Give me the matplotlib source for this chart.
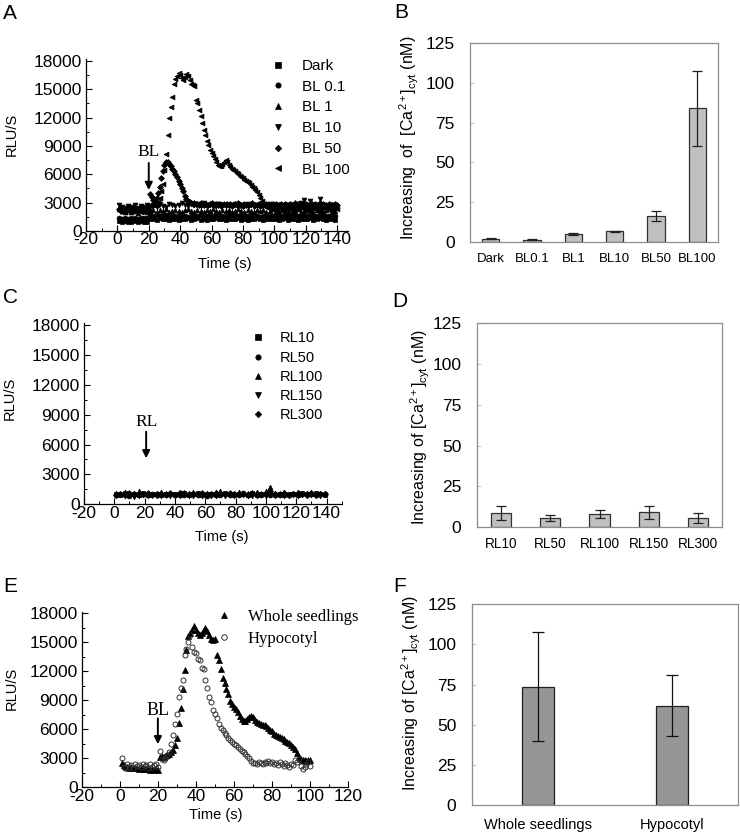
import numpy as np
import matplotlib
matplotlib.use('Agg')
import matplotlib.pyplot as plt
from matplotlib.ticker import MultipleLocator

plt.rcParams['font.family'] = ['Liberation Sans', 'DejaVu Sans']
plt.rcParams['mathtext.fontset'] = 'custom'
plt.rcParams['mathtext.rm'] = 'Liberation Sans'
plt.rcParams['mathtext.it'] = 'Liberation Sans:italic'
plt.rcParams['mathtext.bf'] = 'Liberation Sans:bold'
plt.rcParams['axes.unicode_minus'] = False

# ---------------- data ----------------
# Panel A (blue light dose traces)
tA_sparse = np.arange(1, 141, 2)
tA_dense = np.arange(1, 141, 1)
dark = [1050, 980, 1100, 920, 1000, 1080, 950, 1020, 990, 940,
        1250, 1300, 1180, 1350, 1220, 1280, 1150, 1320, 1260, 1200,
        1300, 1240, 1350, 1190, 1270, 1330, 1210, 1280, 1160, 1300,
        1250, 1380, 1220, 1290, 1180, 1320, 1260, 1230, 1350, 1200,
        1280, 1170, 1310, 1250, 1340, 1220, 1190, 1300, 1260, 1230,
        1320, 1180, 1270, 1350, 1210, 1290, 1240, 1160, 1300, 1260,
        1220, 1330, 1190, 1280, 1400, 1250, 1150, 1300, 1220, 1200]
bl01 = [1400, 1320, 1380, 1300, 1420, 1350, 1280, 1390, 1330, 1360,
        1620, 1580, 1650, 1540, 1600, 1680, 1570, 1630, 1590, 1550,
        1660, 1600, 1520, 1640, 1580, 1610, 1700, 1560, 1620, 1590,
        1540, 1650, 1600, 1570, 1630, 1680, 1550, 1610, 1590, 1640,
        1580, 1620, 1560, 1660, 1600, 1530, 1640, 1590, 1610, 1570,
        1650, 1600, 1540, 1620, 1580, 1670, 1560, 1600, 1630, 1590,
        1610, 1550, 1640, 1580, 1620, 1700, 1600, 1570, 1640, 1590]
bl1 = [2300, 2100, 2000, 2200, 2050, 2150, 1950, 2250, 2100, 2000,
       2150, 2250, 2050, 2200, 2100, 2300, 2000, 2150, 2250, 2100,
       2050, 2200, 2300, 2100, 2000, 2250, 2150, 2050, 2200, 2100,
       2300, 2150, 2000, 2250, 2100, 2200, 2050, 2150, 2300, 2100,
       2000, 2200, 2150, 2050, 2250, 2100, 2200, 2000, 2150, 2300,
       2100, 2050, 2250, 2150, 2000, 2200, 2100, 2300, 2050, 2150,
       2200, 2100, 2000, 2250, 2150, 2050, 2200, 2300, 2100, 2150]
bl10 = [2700, 2500, 2400, 2650, 2550, 2800, 2450, 2600, 2500, 2700,
        2600, 2750, 2500, 2850, 2650, 2550, 2900, 2700, 2600, 2800,
        2950, 2700, 2600, 2850, 2750, 2900, 2650, 3000, 2800, 2700,
        2850, 2600, 2900, 2750, 2650, 2800, 2700, 2900, 2600, 2750,
        2650, 2850, 2700, 2550, 2800, 2650, 2750, 2600, 2850, 2700,
        2600, 2750, 2500, 2700, 2650, 2800, 2550, 2700, 2950, 3300,
        2800, 3200, 2700, 2600, 3350, 2750, 2650, 2500, 2700, 2600]
bl50 = [2300, 2150, 2400, 2250, 2350, 2200, 2450, 2300, 2150, 2400,
        2250, 2350, 2200, 2300, 2400, 2150, 2300, 2250, 2350, 2200,
        3900, 3600, 3300, 3200, 3500, 4000, 4700, 5600, 6400, 7000,
        7300, 7300, 7100, 6900, 6600, 6300, 6000, 5700, 5300, 5000,
        4600, 4200, 3700, 3400, 3200, 3100, 3000, 2900, 2950, 2850,
        2900, 2800, 2950, 2850, 2700, 2900, 2800, 2750, 2850, 2950,
        2800, 2700, 2900, 2750, 2850, 2650, 2800, 2900, 2700, 2850,
        2750, 2900, 2650, 2800, 2850, 2700, 2950, 2750, 2800, 2650,
        2900, 2750, 2800, 2700, 2850, 2950, 2700, 2800, 2750, 2900,
        2650, 2800, 2850, 2700, 2900, 2750, 2800, 2650, 2850, 2750,
        2900, 2700, 2800, 2850, 2650, 2750, 2900, 2800, 2700, 2850,
        2750, 2800, 2950, 2700, 2850, 2650, 2800, 2900, 2750, 2850,
        2700, 2800, 2650, 2900, 2750, 2850, 2700, 2800, 2950, 2750,
        2850, 2700, 2800, 2650, 2900, 2750, 2800, 2700, 2850, 2750]
bl100 = [2200, 2400, 2100, 2300, 2000, 2250, 2350, 2150, 2050, 2300,
         2200, 2100, 2350, 2250, 2000, 2300, 2150, 2400, 2200, 2100,
         2600, 2800, 2700, 2900, 2800, 3100, 3500, 4200, 5000, 6500,
         8200, 10200, 12000, 13100, 14200, 15600, 16100, 16400, 16700, 16500,
         16200, 16000, 16300, 16600, 16400, 16000, 15600, 15400, 15300, 13900,
         13500, 12800, 12200, 11400, 10700, 10200, 9500, 9100, 8600, 8300,
         7900, 7600, 7300, 7000, 6900, 6900, 7100, 7300, 7500, 7300,
         7000, 6800, 6600, 6500, 6300, 6100, 6000, 5800, 5700, 5600,
         5400, 5300, 5200, 5100, 4900, 4700, 4500, 4300, 4100, 3800,
         3500, 3200, 2900, 2700, 2500, 2400, 2550, 2300, 2450, 2350,
         2250, 2500, 2400, 2300, 2550, 2200, 2450, 2350, 2600, 2300,
         2400, 2250, 2500, 2350, 2450, 2200, 2550, 2400, 2300, 2500,
         2350, 2450, 2250, 2600, 2400, 2300, 2500, 2350, 2450, 2250,
         2500, 2400, 2300, 2550, 2350, 2450, 2200, 2400, 2500, 2350]
labels_A = ['Dark', 'BL 0.1', 'BL 1', 'BL 10', 'BL 50', 'BL 100']

# Panel B
cats_B = ['Dark', 'BL0.1', 'BL1', 'BL10', 'BL50', 'BL100']
vals_B = [1.9, 1.4, 4.8, 6.6, 16.4, 84.0]
errs_B = [0.3, 0.3, 0.6, 0.3, 3.2, 23.7]

# Panel C (red light dose traces)
tC = np.arange(1, 141, 3)
rl10 = [1000, 950, 1100, 900, 1050, 980, 1120, 930, 1010, 1060,
        940, 1080, 990, 1030, 920, 1100, 970, 1040, 1150, 960,
        1010, 1080, 940, 1000, 1120, 990, 930, 1060, 1010, 970,
        1090, 950, 1030, 1000, 1200, 980, 1050, 920, 1070, 1010,
        960, 1100, 990, 1040, 1130, 1000, 970]
rl50 = [900, 1050, 980, 870, 1010, 940, 1080, 900, 1000, 950,
        1060, 890, 1030, 970, 1100, 920, 1000, 1060, 940, 1020,
        880, 990, 1070, 950, 1010, 900, 1040, 980, 1100, 930,
        1000, 1050, 890, 1020, 960, 1080, 940, 1010, 970, 1050,
        900, 1030, 980, 1060, 920, 1000, 1040]
rl100 = [1100, 1000, 1200, 1050, 1150, 1300, 1080, 1180, 1020, 1120,
         1250, 1060, 1140, 1000, 1200, 1100, 1050, 1280, 1130, 1060,
         1170, 1020, 1220, 1300, 1090, 1150, 1040, 1200, 1110, 1070,
         1180, 1260, 1050, 1350, 1700, 1150, 1080, 1200, 1020, 1140,
         1230, 1090, 1170, 1280, 1060, 1150, 1100]
rl150 = [800, 900, 850, 950, 780, 880, 920, 820, 960, 870,
         810, 940, 860, 900, 790, 930, 850, 880, 960, 820,
         900, 870, 800, 940, 860, 910, 830, 890, 950, 840,
         880, 800, 920, 860, 970, 830, 900, 850, 810, 940,
         870, 900, 830, 960, 880, 850, 920]
rl300 = [950, 1050, 1000, 1100, 980, 1060, 1010, 1150, 970, 1040,
         1080, 1000, 1120, 960, 1030, 1090, 990, 1070, 1010, 1130,
         980, 1050, 1100, 1000, 1060, 1140, 990, 1030, 1080, 1010,
         1120, 970, 1050, 1000, 1300, 1060, 1010, 1090, 980, 1040,
         1110, 1000, 1060, 1150, 990, 1050, 1020]
labels_C = ['RL10', 'RL50', 'RL100', 'RL150', 'RL300']

# Panel D
cats_D = ['RL10', 'RL50', 'RL100', 'RL150', 'RL300']
vals_D = [8.6, 5.5, 8.0, 9.2, 5.7]
errs_D = [4.2, 1.8, 2.5, 4.0, 3.0]

# Panel E
tE = np.arange(1, 101, 1)
whole = [2500, 2300, 2200, 2100, 2000, 2050, 1950, 2000, 1950, 1900,
         1950, 1900, 1850, 1900, 1850, 1800, 1850, 1800, 1850, 1800,
         3100, 3200, 3150, 3200, 3300, 3400, 3600, 3900, 4400, 5100,
         6700, 8200, 10200, 12100, 14200, 15600, 16000, 16300, 16700, 16300,
         16000, 15700, 16000, 16300, 16500, 16200, 15800, 15300, 15200, 15300,
         13700, 13200, 12200, 11300, 10800, 10200, 9600, 8900, 8600, 8300,
         8100, 7800, 7400, 7100, 6900, 6900, 7100, 7300, 7400, 7300,
         7000, 6800, 6600, 6500, 6400, 6400, 6300, 6100, 5900, 5800,
         5500, 5400, 5300, 5200, 5100, 5000, 4800, 4700, 4600, 4400,
         4200, 4000, 3500, 3100, 2900, 2800, 2800, 2700, 2800, 2800]
hypo = [3000, 2100, 2000, 2400, 2100, 2300, 2000, 2400, 2200, 2300,
        2100, 2400, 2200, 2300, 2000, 2400, 2100, 2300, 2400, 2100,
        3800, 2900, 2800, 3000, 3300, 3700, 4500, 5400, 6500, 7600,
        9300, 10300, 11100, 13700, 14300, 15000, 15700, 14500, 14000, 13900,
        13300, 13200, 12300, 12200, 11100, 10300, 9300, 8800, 8000, 7600,
        7200, 6500, 6100, 5900, 5600, 5400, 5100, 4900, 4700, 4500,
        4400, 4200, 4000, 3800, 3600, 3400, 3200, 3000, 2700, 2500,
        2500, 2400, 2600, 2500, 2400, 2600, 2500, 2700, 2500, 2600,
        2400, 2500, 2300, 2600, 2400, 2200, 2500, 2300, 2100, 2400,
        2300, 2800, 2600, 2900, 2200, 1900, 2100, 2400, 2600, 2200]

# Panel F
cats_F = ['Whole seedlings', 'Hypocotyl']
vals_F = [73.7, 61.9]
errs_F = [33.9, 19.2]

# ---------------- figure ----------------
W, H = 740, 834
fig = plt.figure(figsize=(W / 100, H / 100), dpi=100)


def ax_at(l, t, r, b):
    return fig.add_axes([l / W, 1 - b / H, (r - l) / W, (b - t) / H])


axA = ax_at(86, 59, 348, 231)
axB = ax_at(470, 43, 718, 242)
axC = ax_at(84, 323.3, 341.7, 504.3)
axD = ax_at(476.7, 323.3, 722.3, 527.3)
axE = ax_at(81.7, 611.7, 348.3, 787.3)
axF = ax_at(471.7, 604.3, 738.3, 805)

SERIF = ['Liberation Serif', 'DejaVu Serif']


def style_trace(ax, xlim, ytop, xmaxtick, ylab_xy, xlab_xy):
    ax.set_xlim(*xlim)
    ax.set_ylim(0, ytop)
    for s in ['top', 'right']:
        ax.spines[s].set_visible(False)
    for s in ['left', 'bottom']:
        ax.spines[s].set_linewidth(0.9)
    ax.set_xticks(np.arange(-20, xmaxtick + 1, 20))
    ax.set_yticks(np.arange(0, 18001, 3000))
    ax.xaxis.set_minor_locator(MultipleLocator(10))
    ax.yaxis.set_minor_locator(MultipleLocator(1500))
    ax.tick_params(which='major', direction='in', length=4, width=0.8, labelsize=12.5)
    ax.tick_params(which='minor', direction='in', length=2, width=0.7)
    ax.tick_params(axis='x', which='both', pad=1)
    ax.tick_params(axis='y', which='both', pad=3)
    ax.set_ylabel('RLU/S', fontsize=10.5)
    ax.yaxis.set_label_coords(*ylab_xy)
    ax.set_xlabel('Time (s)', fontsize=10.5)
    ax.xaxis.set_label_coords(*xlab_xy)


def style_bar(ax, cats, xfs, xpad, ylabel, ylab_xy):
    n = len(cats)
    ax.set_xlim(-0.5, n - 0.5)
    ax.set_ylim(0, 125)
    ax.set_yticks(np.arange(0, 126, 25))
    ax.set_xticks(np.arange(n))
    ax.set_xticklabels(cats)
    for s in ax.spines.values():
        s.set_color('#8c8c8c')
        s.set_linewidth(0.9)
    ax.tick_params(axis='y', direction='in', length=3, color='#c8c8c8', labelsize=12.5, pad=11)
    ax.tick_params(axis='x', length=0, labelsize=xfs, pad=xpad)
    ax.set_ylabel(ylabel, fontsize=11.5)
    ax.yaxis.set_label_coords(*ylab_xy)


# ---- A ----
mk = dict(ls='none', color='black', ms=3.5, mew=0.5)
axA.plot(tA_sparse, dark, marker='s', label=labels_A[0], **mk)
axA.plot(tA_sparse, bl01, marker='o', label=labels_A[1], **mk)
axA.plot(tA_sparse, bl1, marker='^', label=labels_A[2], **mk)
axA.plot(tA_sparse, bl10, marker='v', label=labels_A[3], **mk)
axA.plot(tA_dense, bl50, marker='D', label=labels_A[4], **dict(mk, ms=3.0))
axA.plot(tA_dense, bl100, marker='<', label=labels_A[5], **mk)
style_trace(axA, (-20, 147), 18200, 140, (-0.256, 0.56), (0.53, -0.149))
axA.legend(loc='upper left', bbox_to_anchor=(0.704, 1.0), frameon=False, fontsize=11,
           handlelength=1, handletextpad=1.07, borderpad=0, borderaxespad=0,
           labelspacing=0.44, markerscale=1.1)
axA.annotate('', xy=(20, 4340), xytext=(20, 7200),
             arrowprops=dict(arrowstyle='-|>', color='black', lw=1.4, mutation_scale=11,
                             shrinkA=0, shrinkB=0))
axA.text(20, 8400, 'BL', ha='center', va='center', family=SERIF, fontsize=12.5)

# ---- B ----
axB.bar(np.arange(len(cats_B)), vals_B, width=0.42, color='#c0c0c0', edgecolor='#303030',
        linewidth=0.9, yerr=errs_B, capsize=3.5, error_kw=dict(ecolor='#202020', elinewidth=0.9, capthick=0.9))
style_bar(axB, cats_B, 9.5, 8, r'Increasing  of  [Ca$^{\mathrm{2+}}$]$_{\mathrm{cyt}}$ (nM)', (-0.199, 0.525))

# ---- C ----
axC.plot(tC, rl10, marker='s', label=labels_C[0], **mk)
axC.plot(tC, rl50, marker='o', label=labels_C[1], **mk)
axC.plot(tC, rl100, marker='^', label=labels_C[2], **mk)
axC.plot(tC, rl150, marker='v', label=labels_C[3], **mk)
axC.plot(tC, rl300, marker='D', label=labels_C[4], **dict(mk, ms=3.0))
style_trace(axC, (-20, 150), 18170, 140, (-0.26, 0.586), (0.534, -0.142))
axC.legend(loc='upper left', bbox_to_anchor=(0.648, 0.955), frameon=False, fontsize=10.5,
           handlelength=1, handletextpad=0.99, borderpad=0, borderaxespad=0,
           labelspacing=0.36, markerscale=1.1)
axC.annotate('', xy=(21, 4620), xytext=(21, 7290),
             arrowprops=dict(arrowstyle='-|>', color='black', lw=1.4, mutation_scale=11,
                             shrinkA=0, shrinkB=0))
axC.text(21, 8250, 'RL', ha='center', va='center', family=SERIF, fontsize=12.5)

# ---- D ----
axD.bar(np.arange(len(cats_D)), vals_D, width=0.41, color='#c0c0c0', edgecolor='#303030',
        linewidth=0.9, yerr=errs_D, capsize=3.5, error_kw=dict(ecolor='#202020', elinewidth=0.9, capthick=0.9))
style_bar(axD, cats_D, 9.8, 7, r'Increasing of [Ca$^{\mathrm{2+}}$]$_{\mathrm{cyt}}$ (nM)', (-0.181, 0.49))

# ---- E ----
axE.plot(tE, whole, ls='none', marker='^', color='black', ms=4.2, mew=0.5, label='Whole seedlings')
axE.plot(tE, hypo, ls='none', marker='o', mfc='none', mec='#303030', ms=3.6, mew=0.7, label='Hypocotyl')
style_trace(axE, (-20, 120), 18160, 120, (-0.235, 0.564), (0.504, -0.12))
axE.legend(loc='upper left', bbox_to_anchor=(0.503, 1.015), frameon=False,
           prop={'family': SERIF, 'size': 12},
           handlelength=1, handletextpad=0.93, borderpad=0, borderaxespad=0,
           labelspacing=0.36, markerscale=1.1)
axE.annotate('', xy=(20, 4450), xytext=(20, 7130),
             arrowprops=dict(arrowstyle='-|>', color='black', lw=1.4, mutation_scale=11,
                             shrinkA=0, shrinkB=0))
axE.text(20, 7950, 'BL', ha='center', va='center', family=SERIF, fontsize=13)

# ---- F ----
axF.bar(np.arange(len(cats_F)), vals_F, width=0.24, color='#969696', edgecolor='#202020',
        linewidth=0.9, yerr=errs_F, capsize=4, error_kw=dict(ecolor='#101010', elinewidth=0.9, capthick=0.9))
style_bar(axF, cats_F, 10.5, 9, r'Increasing of [Ca$^{\mathrm{2+}}$]$_{\mathrm{cyt}}$ (nM)', (-0.182, 0.556))

# ---- panel letters ----
for letter, (x, y) in zip('ABCDEF', [(3, 4), (394, 3), (3, 288), (392, 292), (3, 577), (393, 577)]):
    fig.text(x / W, 1 - y / H, letter, fontsize=15, ha='left', va='top')

fig.savefig('out.png', dpi=100)
